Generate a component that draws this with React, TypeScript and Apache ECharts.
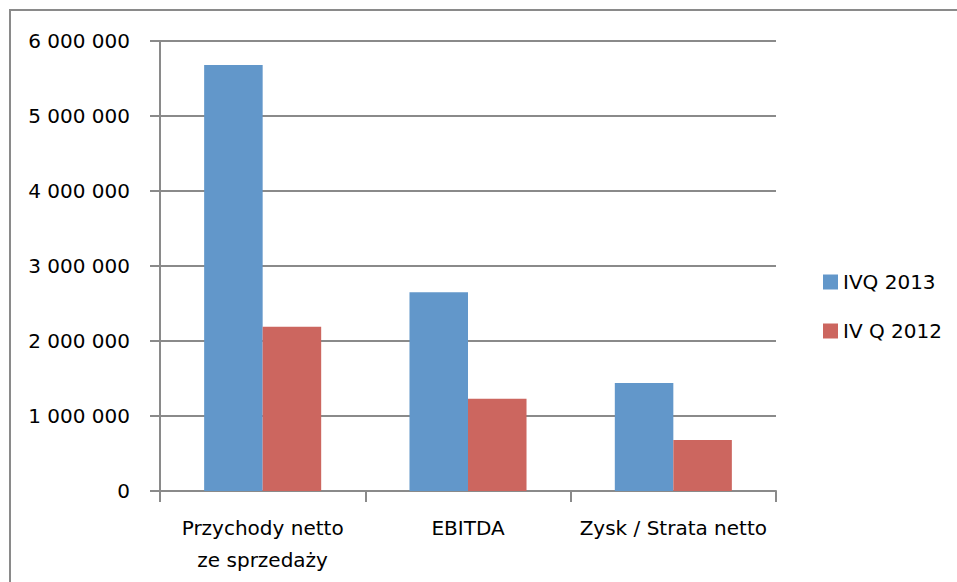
import React, { useEffect, useRef } from "react";
import * as echarts from "echarts";

const categories = ["Przychody netto\nze sprzedaży", "EBITDA", "Zysk / Strata netto"];
const seriesNames = ["IVQ 2013", "IV Q 2012"];
const values2013 = [5680000, 2650000, 1440000];
const values2012 = [2190000, 1230000, 680000];
const yTicks = [0, 1000000, 2000000, 3000000, 4000000, 5000000, 6000000];

const FONT = "DejaVu Sans";

function fmt(v: number): string {
  const s = String(Math.round(v));
  return s.replace(/\B(?=(\d{3})+(?!\d))/g, " ");
}

export default function App() {
  const ref = useRef<HTMLDivElement>(null);
  useEffect(() => {
    if (!ref.current) return;
    const chart = echarts.init(ref.current, undefined, { renderer: "svg" });
    chart.setOption({
      animation: false,
      backgroundColor: "#ffffff",
      textStyle: { fontFamily: FONT },
      graphic: [
        {
          type: "rect",
          shape: { x: 10, y: 10, width: 1000, height: 700 },
          style: { fill: "none", stroke: "#8a8a8a", lineWidth: 2 },
          silent: true,
        },
      ],
      grid: { left: 160, right: 181, top: 41, bottom: 91, containLabel: false },
      legend: {
        orient: "vertical",
        left: 818,
        top: 267,
        itemWidth: 15,
        itemHeight: 15,
        itemGap: 29,
        icon: "rect",
        textStyle: { fontFamily: FONT, fontSize: 20, color: "#000", lineHeight: 20 },
        data: seriesNames,
      },
      xAxis: {
        type: "category",
        data: categories,
        axisLine: { show: true, lineStyle: { color: "#8a8a8a", width: 2 } },
        axisTick: { show: true, length: 11, alignWithLabel: false, lineStyle: { color: "#8a8a8a", width: 2 } },
        axisLabel: { fontFamily: FONT, fontSize: 20, color: "#000", lineHeight: 32, margin: 21, interval: 0 },
        splitLine: { show: false },
      },
      yAxis: {
        type: "value",
        min: yTicks[0],
        max: yTicks[yTicks.length - 1],
        interval: 1000000,
        axisLine: { show: true, lineStyle: { color: "#8a8a8a", width: 2 } },
        axisTick: { show: true, length: 10, lineStyle: { color: "#8a8a8a", width: 2 } },
        axisLabel: { fontFamily: FONT, fontSize: 20, color: "#000", margin: 30, formatter: (v: number) => fmt(v) },
        splitLine: { show: true, lineStyle: { color: "#8a8a8a", width: 2 } },
      },
      series: [
        {
          name: seriesNames[0],
          type: "bar",
          data: values2013,
          barGap: "0%",
          barCategoryGap: "43%",
          itemStyle: { color: "#6297CA" },
        },
        {
          name: seriesNames[1],
          type: "bar",
          data: values2012,
          barGap: "0%",
          barCategoryGap: "43%",
          itemStyle: { color: "#CC665F" },
        },
      ],
    });
    return () => chart.dispose();
  }, []);
  return (
    <div
      ref={ref}
      style={{ position: "fixed", left: 0, top: 0, width: 957, height: 582, background: "#fff" }}
    />
  );
}
